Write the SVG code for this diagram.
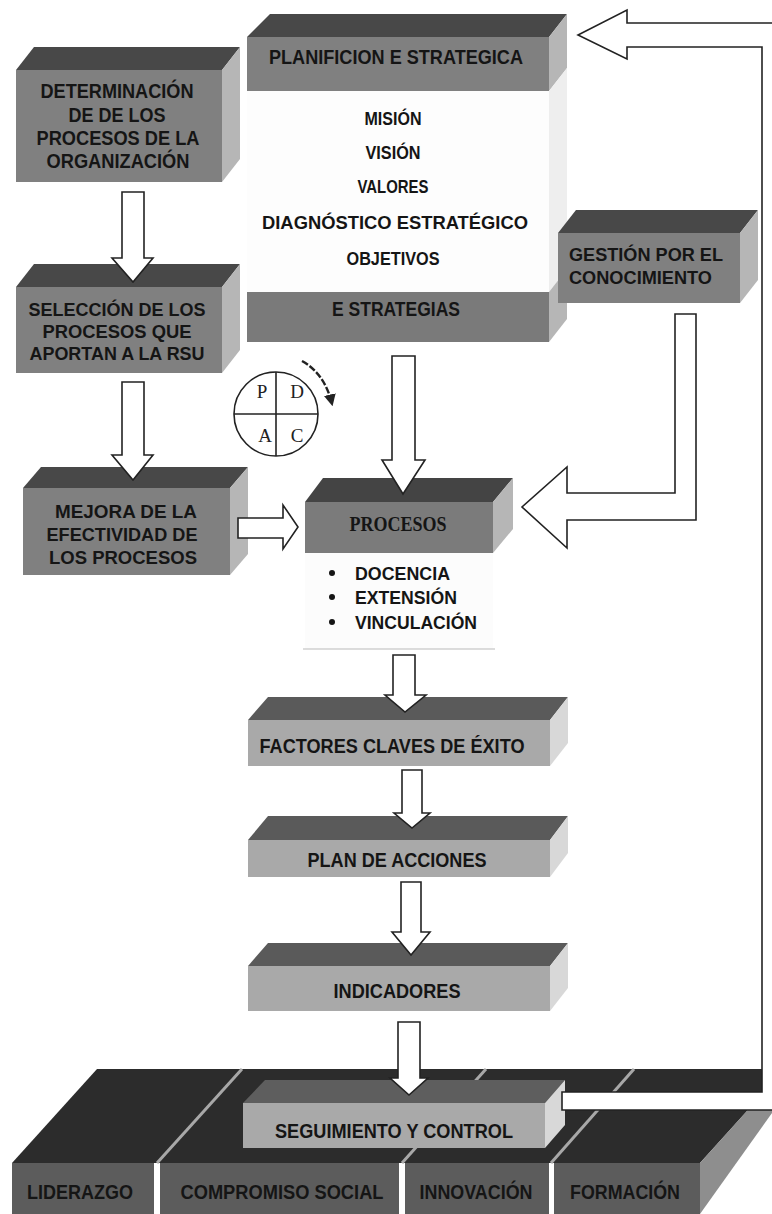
<svg xmlns="http://www.w3.org/2000/svg" width="772" height="1214" viewBox="0 0 772 1214">
<defs>
<style>
.t1{fill:#484848}.f1{fill:#808080}.s1{fill:#b6b6b6}
.t2{fill:#5a5a5a}.f2{fill:#a9a9a9}.s2{fill:#d8d8d8}
.lbl{font-family:'Liberation Sans',Arial,sans-serif;font-weight:bold;fill:#151515;text-anchor:middle}
.lft{text-anchor:start}
.ser{font-family:'Liberation Serif','Times New Roman',serif}
.arw{fill:#fff;stroke:#222;stroke-width:1.6;stroke-linejoin:miter}
.base-top{fill:#2c2c2c}.base-front{fill:#5c5c5c}.base-side{fill:#8e8e8e}
.sep{stroke:#a8a8a8;stroke-width:3}
</style>
<marker id="ah" viewBox="0 0 10 10" refX="8" refY="5" markerWidth="5" markerHeight="5" orient="auto">
<path d="M0,0 L10,5 L0,10 Z" fill="#222"/>
</marker>
</defs>
<rect width="772" height="1214" fill="#fff"/>

<!-- base slab -->
<g id="base">
<polygon class="base-top" points="12,1163 700,1163 785,1069 97,1069"/>
<polygon class="base-side" points="700,1163 772,1083 772,1113 700,1214"/>
<line class="sep" x1="157" y1="1163" x2="242" y2="1069"/>
<line class="sep" x1="402" y1="1163" x2="486" y2="1069"/>
<line class="sep" x1="551" y1="1163" x2="634" y2="1069"/>
</g>
<g id="liderazgo">
<rect class="base-front" x="12" y="1163" width="142" height="51"/>
<text class="lbl" x="80" y="1199" font-size="20" textLength="106" lengthAdjust="spacingAndGlyphs">LIDERAZGO</text>
</g>
<g id="compromiso">
<rect class="base-front" x="160" y="1163" width="239" height="51"/>
<text class="lbl" x="282" y="1199" font-size="20" textLength="203" lengthAdjust="spacingAndGlyphs">COMPROMISO SOCIAL</text>
</g>
<g id="innovacion">
<rect class="base-front" x="405" y="1163" width="144" height="51"/>
<text class="lbl" x="476" y="1199" font-size="20" textLength="113" lengthAdjust="spacingAndGlyphs">INNOVACIÓN</text>
</g>
<g id="formacion">
<rect class="base-front" x="554" y="1163" width="146" height="51"/>
<text class="lbl" x="625" y="1199" font-size="20" textLength="110" lengthAdjust="spacingAndGlyphs">FORMACIÓN</text>
</g>

<!-- seguimiento -->
<g id="seguimiento">
<polygon fill="#5e5e5e" points="243,1103 545,1103 565,1080 265,1080"/>
<rect class="f2" x="243" y="1103" width="302" height="45"/>
<polygon class="s2" points="545,1103 565,1080 565,1125 545,1148"/>
<text class="lbl" x="394" y="1138" font-size="20" textLength="238" lengthAdjust="spacingAndGlyphs">SEGUIMIENTO Y CONTROL</text>
</g>

<!-- planificacion -->
<g id="planificacion">
<polygon class="t1" points="247,37 549,37 567,14 270,14"/>
<rect class="f1" x="247" y="37" width="302" height="54"/>
<rect fill="#fdfdfd" x="247" y="91" width="302" height="201"/>
<rect fill="#7a7a7a" x="247" y="292" width="302" height="50"/>
<polygon class="s1" points="549,37 567,14 567,68 549,91"/>
<polygon fill="#eeeeee" points="549,91 567,68 567,269 549,292"/>
<polygon class="s1" points="549,292 567,269 567,319 549,342"/>
<text class="lbl" x="396" y="64" font-size="20" textLength="254" lengthAdjust="spacingAndGlyphs">PLANIFICION E STRATEGICA</text>
<text class="lbl" x="393" y="125" font-size="19" textLength="57" lengthAdjust="spacingAndGlyphs">MISIÓN</text>
<text class="lbl" x="393" y="159" font-size="19" textLength="55" lengthAdjust="spacingAndGlyphs">VISIÓN</text>
<text class="lbl" x="393" y="193" font-size="19" textLength="71" lengthAdjust="spacingAndGlyphs">VALORES</text>
<text class="lbl" x="395" y="229" font-size="19" textLength="266" lengthAdjust="spacingAndGlyphs">DIAGNÓSTICO ESTRATÉGICO</text>
<text class="lbl" x="393" y="265" font-size="19" textLength="93" lengthAdjust="spacingAndGlyphs">OBJETIVOS</text>
<text class="lbl" x="396" y="316" font-size="20" textLength="128" lengthAdjust="spacingAndGlyphs">E STRATEGIAS</text>
</g>

<!-- left column -->
<g id="determinacion">
<polygon class="t1" points="16,70 222,70 240,47 34,47"/>
<rect class="f1" x="16" y="70" width="206" height="112"/>
<polygon class="s1" points="222,70 240,47 240,159 222,182"/>
<text class="lbl" x="117" y="98" font-size="20" textLength="153" lengthAdjust="spacingAndGlyphs">DETERMINACIÓN</text>
<text class="lbl" x="117" y="122" font-size="20" textLength="97" lengthAdjust="spacingAndGlyphs">DE DE LOS</text>
<text class="lbl" x="118" y="145" font-size="20" textLength="163" lengthAdjust="spacingAndGlyphs">PROCESOS DE LA</text>
<text class="lbl" x="118" y="168" font-size="20" textLength="143" lengthAdjust="spacingAndGlyphs">ORGANIZACIÓN</text>
</g>
<g id="seleccion">
<polygon class="t1" points="16,287 222,287 240,264 34,264"/>
<rect class="f1" x="16" y="287" width="206" height="86"/>
<polygon class="s1" points="222,287 240,264 240,350 222,373"/>
<text class="lbl" x="117" y="316" font-size="19" textLength="177" lengthAdjust="spacingAndGlyphs">SELECCIÓN DE LOS</text>
<text class="lbl" x="117" y="338" font-size="19" textLength="149" lengthAdjust="spacingAndGlyphs">PROCESOS QUE</text>
<text class="lbl" x="117" y="360" font-size="19" textLength="175" lengthAdjust="spacingAndGlyphs">APORTAN A LA RSU</text>
</g>
<g id="mejora">
<polygon class="t1" points="23,488 230,488 248,467 41,467"/>
<rect class="f1" x="23" y="488" width="207" height="87"/>
<polygon class="s1" points="230,488 248,467 248,554 230,575"/>
<text class="lbl" x="126" y="518" font-size="19" textLength="142" lengthAdjust="spacingAndGlyphs">MEJORA DE LA</text>
<text class="lbl" x="122" y="541" font-size="19" textLength="151" lengthAdjust="spacingAndGlyphs">EFECTIVIDAD DE</text>
<text class="lbl" x="123" y="564" font-size="19" textLength="148" lengthAdjust="spacingAndGlyphs">LOS PROCESOS</text>
</g>

<!-- gestion -->
<g id="gestion">
<polygon class="t1" points="558,233 740,233 758,210 576,210"/>
<rect class="f1" x="558" y="233" width="182" height="70"/>
<polygon class="s1" points="740,233 758,210 758,280 740,303"/>
<text class="lbl lft" x="569" y="261" font-size="19" textLength="154" lengthAdjust="spacingAndGlyphs">GESTIÓN POR EL</text>
<text class="lbl lft" x="569" y="284" font-size="19" textLength="143" lengthAdjust="spacingAndGlyphs">CONOCIMIENTO</text>
</g>

<!-- PDCA -->
<g id="pdca">
<circle cx="276" cy="414" r="42" fill="#fff" stroke="#222" stroke-width="1.6"/>
<line x1="276" y1="372" x2="276" y2="456" stroke="#222" stroke-width="1.6"/>
<line x1="234" y1="414" x2="318" y2="414" stroke="#222" stroke-width="1.6"/>
<text class="ser" x="262" y="398" font-size="19" text-anchor="middle" fill="#222">P</text>
<text class="ser" x="297" y="398" font-size="19" text-anchor="middle" fill="#222">D</text>
<text class="ser" x="265" y="442" font-size="19" text-anchor="middle" fill="#222">A</text>
<text class="ser" x="297" y="442" font-size="19" text-anchor="middle" fill="#222">C</text>
<path d="M302,361 Q325,374 332,404" fill="none" stroke="#222" stroke-width="2.4" stroke-dasharray="7,2" marker-end="url(#ah)"/>
</g>

<!-- procesos -->
<g id="procesos">
<polygon fill="#444" points="305,502 493,502 513,478 323,478"/>
<rect fill="#7b7b7b" x="305" y="502" width="188" height="51"/>
<polygon class="s1" points="493,502 513,478 513,529 493,553"/>
<rect fill="#fcfcfc" x="305" y="553" width="188" height="96"/>
<line x1="303" y1="649" x2="495" y2="649" stroke="#d0d0d0" stroke-width="1.5"/>
<text class="ser" x="398" y="531" font-size="22" font-weight="bold" text-anchor="middle" fill="#151515" textLength="97" lengthAdjust="spacingAndGlyphs">PROCESOS</text>
<circle cx="332" cy="573" r="3" fill="#151515"/>
<circle cx="332" cy="597" r="3" fill="#151515"/>
<circle cx="332" cy="622" r="3" fill="#151515"/>
<text class="lbl lft" x="355" y="580" font-size="18" textLength="95" lengthAdjust="spacingAndGlyphs">DOCENCIA</text>
<text class="lbl lft" x="355" y="604" font-size="18" textLength="102" lengthAdjust="spacingAndGlyphs">EXTENSIÓN</text>
<text class="lbl lft" x="355" y="629" font-size="18" textLength="122" lengthAdjust="spacingAndGlyphs">VINCULACIÓN</text>
</g>

<!-- factores / plan / indicadores -->
<g id="factores">
<polygon class="t2" points="248,720 550,720 568,697 268,697"/>
<rect class="f2" x="248" y="720" width="302" height="46"/>
<polygon class="s2" points="550,720 568,697 568,743 550,766"/>
<text class="lbl" x="392" y="753" font-size="20" textLength="265" lengthAdjust="spacingAndGlyphs">FACTORES CLAVES DE ÉXITO</text>
</g>
<g id="plan">
<polygon class="t2" points="248,840 550,840 568,816 268,816"/>
<rect class="f2" x="248" y="840" width="302" height="37"/>
<polygon class="s2" points="550,840 568,816 568,853 550,877"/>
<text class="lbl" x="397" y="867" font-size="20" textLength="179" lengthAdjust="spacingAndGlyphs">PLAN DE ACCIONES</text>
</g>
<g id="indicadores">
<polygon class="t2" points="248,966 550,966 568,943 268,943"/>
<rect class="f2" x="248" y="966" width="302" height="45"/>
<polygon class="s2" points="550,966 568,943 568,988 550,1011"/>
<text class="lbl" x="397" y="998" font-size="20" textLength="127" lengthAdjust="spacingAndGlyphs">INDICADORES</text>
</g>

<!-- connectors -->
<g id="connectors">
<path class="arw" d="M122,192 L144,192 L144,258 L153,258 L133,282 L112,258 L122,258 Z"/>
<path class="arw" d="M122,382 L144,382 L144,455 L153,455 L133,480 L112,455 L122,455 Z"/>
<path class="arw" d="M238,518 L283,518 L283,505 L298,527 L283,549 L283,538 L238,538 Z"/>
<path class="arw" d="M392,356 L415,356 L415,460 L425,460 L403,494 L382,460 L392,460 Z"/>
<path class="arw" d="M675,314 L696,314 L696,520 L567,520 L567,548 L522,507 L567,467 L567,493 L675,493 Z"/>
<path class="arw" d="M393,655 L415,655 L415,695 L426,695 L405,712 L385,695 L393,695 Z"/>
<path class="arw" d="M402,770 L422,770 L422,813 L430,813 L412,828 L394,813 L402,813 Z"/>
<path class="arw" d="M401,882 L421,882 L421,932 L430,932 L411,955 L392,932 L401,932 Z"/>
<path class="arw" d="M398,1022 L420,1022 L420,1078 L428,1078 L409,1095 L390,1078 L398,1078 Z"/>
<path class="arw" d="M562,1092 L762,1092 L762,47 L627,47 L627,59 L578,35 L627,10 L627,23 L790,23 L790,1110 L562,1110 Z"/>
</g>
</svg>
